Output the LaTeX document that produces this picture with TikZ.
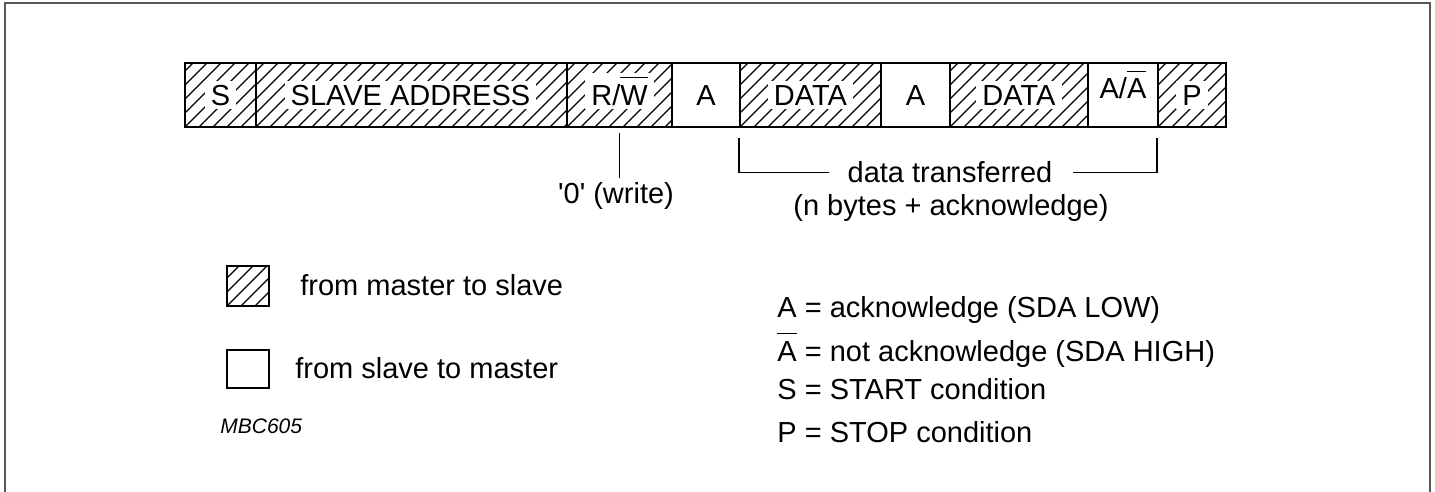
\documentclass[tikz,border=0pt]{standalone}
\usepackage{fontspec}
\setmainfont{Liberation Sans}
\usetikzlibrary{fit}
\definecolor{framegrey}{RGB}{88,88,88}
\newcommand{\barover}[1]{\leavevmode\vbox{\hrule height 0.8pt\kern 3.3pt\hbox{#1}}}
\begin{document}
\begin{tikzpicture}[x=0.5pt,y=-0.5pt,
  every node/.style={font=\fontsize{14.5}{17}\selectfont},
  field/.style={draw=black, line width=0.9pt, inner sep=0pt},
  hatched/.style={path picture={\foreach \i in {-6,...,24}{\draw[line width=0.55pt] ([xshift=\i*7pt]path picture bounding box.south west) -- ++(40pt,40pt);}}},
  lbl/.style={fill=white, inner xsep=3pt, inner ysep=2pt, anchor=base},
  txt/.style={inner sep=0pt, anchor=base west},
  conn/.style={line width=0.75pt},
]
\useasboundingbox (0,0) rectangle (1435,492);
\draw[framegrey, line width=1.1pt] (5,500) -- (5,3) -- (1430,3) -- (1430,500);

% frame fields
\node[field,hatched,fit={(185,63)(256,127)}] (s) {};
\node[field,hatched,fit={(256,63)(567,127)}] (sa) {};
\node[field,hatched,fit={(567,63)(672,127)}] (rw) {};
\node[field,fit={(672,63)(740,127)}] (a1) {};
\node[field,hatched,fit={(740,63)(881,127)}] (d1) {};
\node[field,fit={(881,63)(950,127)}] (a2) {};
\node[field,hatched,fit={(950,63)(1088,127)}] (d2) {};
\node[field,fit={(1088,63)(1158,127)}] (a3) {};
\node[field,hatched,fit={(1158,63)(1226,127)}] (p) {};

\node[lbl] (sl) at (220.5,105) {S};
\node[lbl] (sal) at (410.5,105) {SLAVE ADDRESS};
\node[lbl] (rwl) at (619.5,105) {R/\barover{W}};
\node[lbl] (a1l) at (706,105) {A};
\node[lbl] (d1l) at (810.5,105) {DATA};
\node[lbl] (a2l) at (915.5,105) {A};
\node[lbl] (d2l) at (1019,105) {DATA};
\node[lbl] (a3l) at (1123,99) {A/\barover{A}};
\node[lbl] (pl) at (1192,105) {P};

% annotations
\node[inner sep=0pt, anchor=base] (w0) at (616,203) {\textquotesingle 0\textquotesingle{} (write)};
\draw[conn] ([yshift=-2.5pt]rw.south) -- ([yshift=2pt]rw.south |- w0.north);

\node[inner sep=0pt, anchor=base] (dt) at (950,183) {data transferred};
\node[inner sep=0pt, anchor=base] (nb) at (951,215) {(n bytes + acknowledge)};
\draw[conn] ([yshift=-5pt]d1.south west) |- ([xshift=-9pt]dt.west);
\draw[conn] ([yshift=-5pt]p.south west) |- ([xshift=10pt]dt.east);

% legend
\node[field,hatched,fit={(227,266)(269,306)}] (lgh) {};
\node[txt] (lm) at (300,295) {from master to slave};
\node[field,fit={(227,350)(269,388)}] (lgw) {};
\node[txt] (ls) at (295,378) {from slave to master};
\node[txt, font=\fontsize{10.5}{12}\selectfont\itshape] (id) at (220,433) {MBC605};

\node[txt] (k1) at (777,317) {A = acknowledge (SDA LOW)};
\node[txt] (k2) at (777,361) {\barover{A} = not acknowledge (SDA HIGH)};
\node[txt] (k3) at (777,399) {S = START condition};
\node[txt] (k4) at (777,442) {P = STOP condition};
\end{tikzpicture}
\end{document}
